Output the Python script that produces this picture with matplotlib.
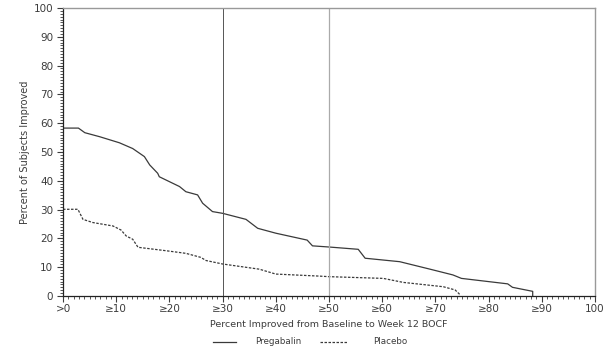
import matplotlib.pyplot as plt
from matplotlib.ticker import MultipleLocator
from matplotlib.lines import Line2D

plt.rcParams.update({
    "font.family": "DejaVu Sans",
    "font.size": 7,
})

# cumulative responder curves (percent improved vs percent of subjects)
preg_x = [0, 2.9, 4.1, 6.9, 10.6, 13.1, 15.3, 16.3, 17.8, 18.1, 21.9, 23.1, 25.3,
          26.25, 28.1, 30.0, 34.4, 36.6, 40.0, 45.9, 46.9, 50.0, 55.5, 56.8, 63.3,
          69.0, 73.3, 74.9, 83.6, 84.5, 88.3, 88.3]
preg_y = [58.3, 58.3, 56.7, 55.3, 53.2, 51.2, 48.4, 45.5, 42.6, 41.4, 38.0, 36.2, 35.1,
          32.2, 29.3, 28.7, 26.6, 23.5, 21.8, 19.4, 17.4, 17.0, 16.2, 13.1, 11.9,
          9.3, 7.3, 6.1, 4.2, 3.0, 1.6, 0.0]

plac_x = [0, 2.8, 3.75, 5.6, 9.4, 10.9, 11.9, 13.1, 14.1, 19.4, 23.1, 25.9, 26.9,
          30.0, 36.9, 40.0, 48.1, 50.0, 60.2, 64.0, 71.5, 73.7, 74.5, 74.5]
plac_y = [30.1, 30.1, 26.6, 25.5, 24.3, 22.9, 20.8, 19.7, 16.9, 15.7, 14.8, 13.4, 12.3,
          11.1, 9.3, 7.6, 6.9, 6.7, 6.1, 4.7, 3.2, 2.1, 0.7, 0.0]

x_ticks = [0, 10, 20, 30, 40, 50, 60, 70, 80, 90, 100]
x_labels = [">0", "≥10", "≥20", "≥30", "≥40", "≥50", "≥60", "≥70", "≥80", "≥90", "100"]
y_ticks = list(range(0, 101, 10))
ref_lines = [30, 50]
series_names = ["Pregabalin", "Placebo"]

W, H = 610, 349
fig = plt.figure(figsize=(W / 100, H / 100), dpi=100)
ax = fig.add_axes([0.1033, 0.152, 0.872, 0.825])

text_col = "#3c3c3c"
line_col = "#3a3a3a"
dash = (0, (2, 1.2))

ax.plot(preg_x, preg_y, color=line_col, lw=0.9, ls="-")
ax.plot(plac_x, plac_y, color=line_col, lw=0.9, ls=dash)

ax.axvline(ref_lines[0], color="#555555", lw=0.7)
ax.axvline(ref_lines[1], color="#aaaaaa", lw=0.9)

ax.set_xlim(0, 100)
ax.set_ylim(0, 100)
ax.set_xticks(x_ticks)
ax.set_xticklabels(x_labels)
ax.set_yticks(y_ticks)
ax.xaxis.set_minor_locator(MultipleLocator(1))
ax.yaxis.set_minor_locator(MultipleLocator(1))
ax.tick_params(which="major", direction="out", length=4, width=0.8,
               colors=text_col, labelsize=7.5, pad=3)
ax.tick_params(axis="x", which="major", pad=2)
ax.tick_params(which="minor", direction="out", length=2, width=0.6, colors=text_col)

for side in ("left", "bottom"):
    ax.spines[side].set_color("#222222")
    ax.spines[side].set_linewidth(0.9)
for side in ("top", "right"):
    ax.spines[side].set_color("#999999")
    ax.spines[side].set_linewidth(1.0)

ax.set_ylabel("Percent of Subjects Improved", color=text_col, fontsize=7)
ax.yaxis.set_label_coords(-0.062, 0.5)
ax.set_xlabel("Percent Improved from Baseline to Week 12 BOCF", color=text_col,
              fontsize=6.8, labelpad=4)

# legend row drawn in figure pixel coordinates
ly = 1 - 342 / H
fig.add_artist(Line2D([213 / W, 236 / W], [ly, ly], color=line_col, lw=0.9, ls="-"))
fig.text(255 / W, ly, series_names[0], color=text_col, fontsize=6.3, va="center")
fig.add_artist(Line2D([320 / W, 347 / W], [ly, ly], color=line_col, lw=0.9, ls=dash))
fig.text(373 / W, ly, series_names[1], color=text_col, fontsize=6.3, va="center")

fig.savefig("out.png", dpi=100)
